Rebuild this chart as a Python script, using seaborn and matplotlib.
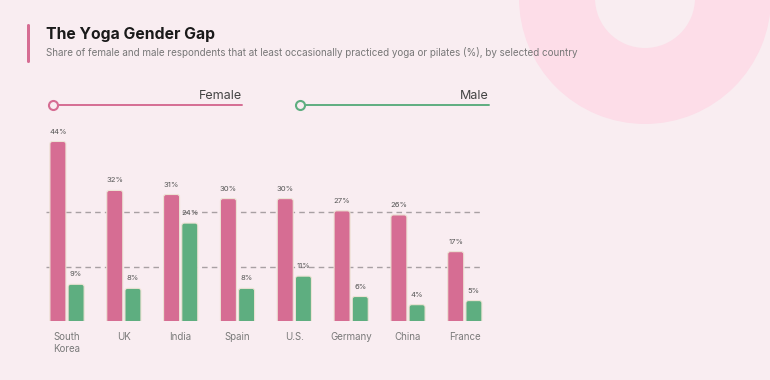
import matplotlib
matplotlib.use("Agg")
import matplotlib.pyplot as plt
import seaborn as sns
import pandas as pd
from matplotlib.patches import Wedge, FancyBboxPatch
from matplotlib.lines import Line2D

countries = ["South\nKorea", "UK", "India", "Spain", "U.S.", "Germany", "China", "France"]
female = [44, 32, 31, 30, 30, 27, 26, 17]
male = [9, 8, 24, 8, 11, 6, 4, 5]
series = ["Female", "Male"]
gridlines = [13.3, 26.7]

BG = "#F9EDF1"
PINK = "#D66D93"
GREEN = "#5EAE80"

df = pd.DataFrame({
    "country": countries * 2,
    "value": female + male,
    "gender": ["Female"] * len(countries) + ["Male"] * len(countries),
})

sns.set_theme(style="white")
plt.rcParams["font.family"] = ["Inter", "DejaVu Sans"]

fig = plt.figure(figsize=(7.7, 3.8), dpi=100)
fig.patch.set_facecolor(BG)

# decorative donut top right
deco = fig.add_axes([0, 0, 1, 1], zorder=0)
deco.set_xlim(0, 770)
deco.set_ylim(380, 0)
deco.axis("off")
deco.add_patch(Wedge((645, -2), 126, 0, 360, width=76, facecolor="#FDDDE8", edgecolor="none"))
# title accent bar
deco.add_patch(FancyBboxPatch((27, 24), 3, 39, boxstyle="round,pad=0,rounding_size=1.5",
                              facecolor=PINK, edgecolor="none"))
deco.text(46, 35, "The Yoga Gender Gap", fontsize=11.3, fontweight="bold", color="#1a1a1a",
          va="center", ha="left")
deco.text(46, 53, "Share of female and male respondents that at least occasionally practiced yoga or pilates (%), by selected country",
          fontsize=7.1, color="#777777", va="center", ha="left")

# legend
for (x0, x1, col, lab) in [(53, 242, PINK, series[0]), (300, 489, GREEN, series[1])]:
    deco.add_line(Line2D([x0, x1], [105, 105], color=col, lw=1.4))
    deco.plot([x0], [105], marker="o", ms=6.5, mfc=BG, mec=col, mew=1.5)
    deco.text(x1, 96, lab, fontsize=9, color="#444444", ha="right", va="center")

# main axes
left, right, bottom, top = 46, 483, 321, 117
ax = fig.add_axes([left / 770, (380 - bottom) / 380, (right - left) / 770, (bottom - top) / 380], zorder=1)
ax.patch.set_alpha(0)

for g in gridlines:
    ax.axhline(g, color="#A8A0A3", lw=1, ls=(0, (4, 3)), zorder=0)

sns.barplot(data=df, x="country", y="value", hue="gender", palette=[PINK, GREEN],
            width=0.64, gap=0.12, ax=ax, legend=False, zorder=2, saturation=1,
            edgecolor="#EDE3D5", linewidth=0.8)

ax.set_xlim(-0.37, 7.32)
ax.set_ylim(0, 50)

for cont in ax.containers:
    ax.bar_label(cont, fmt="%d%%", padding=5, fontsize=5.5, color="#555555")

# round the top corners of the bars drawn by seaborn
px_x = (right - left) / (7.32 + 0.37)   # px per x unit
px_y = (bottom - top) / 50              # px per y unit
aspect = px_x / px_y
rad = 2.5 / px_x
ext = 3 / px_y
for p in list(ax.patches):
    x, y = p.get_x(), p.get_y()
    w, h = p.get_width(), p.get_height()
    fb = FancyBboxPatch((x, y - ext), w, h + ext,
                        boxstyle=f"round,pad=0,rounding_size={rad}",
                        mutation_aspect=aspect,
                        facecolor=p.get_facecolor(), edgecolor=p.get_edgecolor(),
                        linewidth=p.get_linewidth(), zorder=p.get_zorder())
    p.remove()
    ax.add_patch(fb)

ax.set_xlabel("")
ax.set_ylabel("")
ax.set_yticks([])
ax.tick_params(axis="x", length=0, pad=8, labelsize=7, labelcolor="#7a7a7a")
for s in ax.spines.values():
    s.set_visible(False)

fig.savefig("out.png", dpi=100, facecolor=BG)
